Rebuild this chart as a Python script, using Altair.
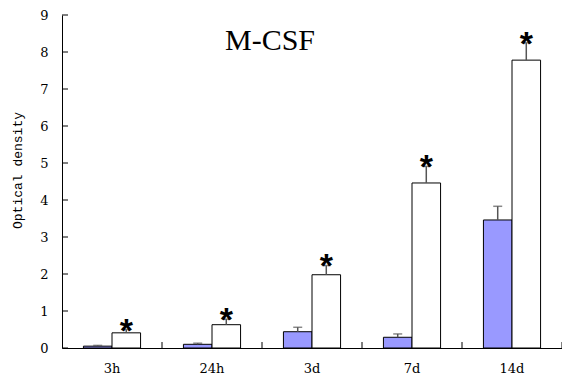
import altair as alt
import pandas as pd

categories = ["3h", "24h", "3d", "7d", "14d"]
groups = ["control", "M-CSF"]
control_vals = [0.05, 0.10, 0.44, 0.29, 3.46]
control_err = [0.02, 0.03, 0.12, 0.09, 0.37]
treated_vals = [0.41, 0.63, 1.98, 4.46, 7.78]
treated_err = [0.09, 0.15, 0.25, 0.45, 0.47]
y_ticks = list(range(10))
title_text = "M-CSF"
y_title = "Optical density"

rows = []
for i, c in enumerate(categories):
    rows.append(dict(cat=c, group=groups[0], value=control_vals[i],
                     upper=control_vals[i] + control_err[i]))
    rows.append(dict(cat=c, group=groups[1], value=treated_vals[i],
                     upper=treated_vals[i] + treated_err[i]))
df = pd.DataFrame(rows)

W, H = 500, 333
xscale = alt.Scale(domain=categories, paddingInner=0, paddingOuter=0)
yscale = alt.Scale(domain=[0, 9], nice=False, zero=True)
xoff = alt.XOffset("group:N", scale=alt.Scale(domain=groups, paddingInner=0, paddingOuter=0.75))

x_axis = alt.Axis(title=None, labelFont="DejaVu Serif", labelFontSize=13, labelColor="black",
                  ticks=False, labelPadding=24, labelBaseline="alphabetic", labelAngle=0,
                  domainColor="black", domainWidth=1, grid=False)
y_axis = alt.Axis(title=y_title, values=y_ticks, labelFont="DejaVu Serif", labelFontSize=13,
                  labelColor="black", ticks=False, labelPadding=14, domainColor="black",
                  domainWidth=1, grid=False, titleFont="Liberation Mono", titleFontSize=13,
                  titleFontWeight="normal", titleColor="black", titleX=-45, titleY=155,
                  titleAngle=-90, titleBaseline="middle", titleAlign="center")

base = alt.Chart(df)
X = alt.X("cat:N", scale=xscale, sort=categories, axis=x_axis)

bars = base.mark_bar(stroke="black", strokeWidth=1).encode(
    x=X, xOffset=xoff,
    y=alt.Y("value:Q", scale=yscale, axis=y_axis),
    color=alt.Color("group:N", scale=alt.Scale(domain=groups, range=["#9999FF", "#FFFFFF"]), legend=None),
)
err = base.mark_rule(color="#555555", strokeWidth=1.5).encode(
    x=X, xOffset=xoff, y=alt.Y("value:Q", scale=yscale, axis=y_axis), y2="upper:Q")
caps = base.mark_tick(orient="horizontal", size=9, thickness=1.5, color="#555555").encode(
    x=X, xOffset=xoff, y=alt.Y("upper:Q", scale=yscale, axis=y_axis))
stars = base.transform_filter(alt.datum.group == groups[1]).mark_text(
    text="*", font="Liberation Sans", fontWeight="bold", fontSize=34, dy=12,
    baseline="alphabetic", color="black").encode(
    x=X, xOffset=xoff, y=alt.Y("upper:Q", scale=yscale, axis=y_axis))

xticks = alt.Chart(pd.DataFrame({"cat": categories})).mark_rule(color="black", strokeWidth=1).encode(
    x=alt.X("cat:N", scale=xscale, sort=categories, axis=x_axis, bandPosition=1),
    y=alt.value(H), y2=alt.value(H - 6))
yticks = alt.Chart(pd.DataFrame({"v": y_ticks})).mark_rule(color="black", strokeWidth=1).encode(
    y=alt.Y("v:Q", scale=yscale, axis=y_axis), x=alt.value(0), x2=alt.value(6))
title = alt.Chart(pd.DataFrame({"t": [title_text]})).mark_text(
    font="Liberation Serif", fontSize=30, baseline="alphabetic", align="center", color="black").encode(
    text="t:N", x=alt.value(208), y=alt.value(35))

chart = alt.layer(bars, err, caps, stars, xticks, yticks, title).properties(
    width=W, height=H,
    autosize=alt.AutoSizeParams(type="none"),
    padding={"left": 54, "top": 7, "right": 0, "bottom": 27},
).configure_view(stroke=None)

chart.save("out.html", embed_options={"renderer": "svg", "actions": False})
